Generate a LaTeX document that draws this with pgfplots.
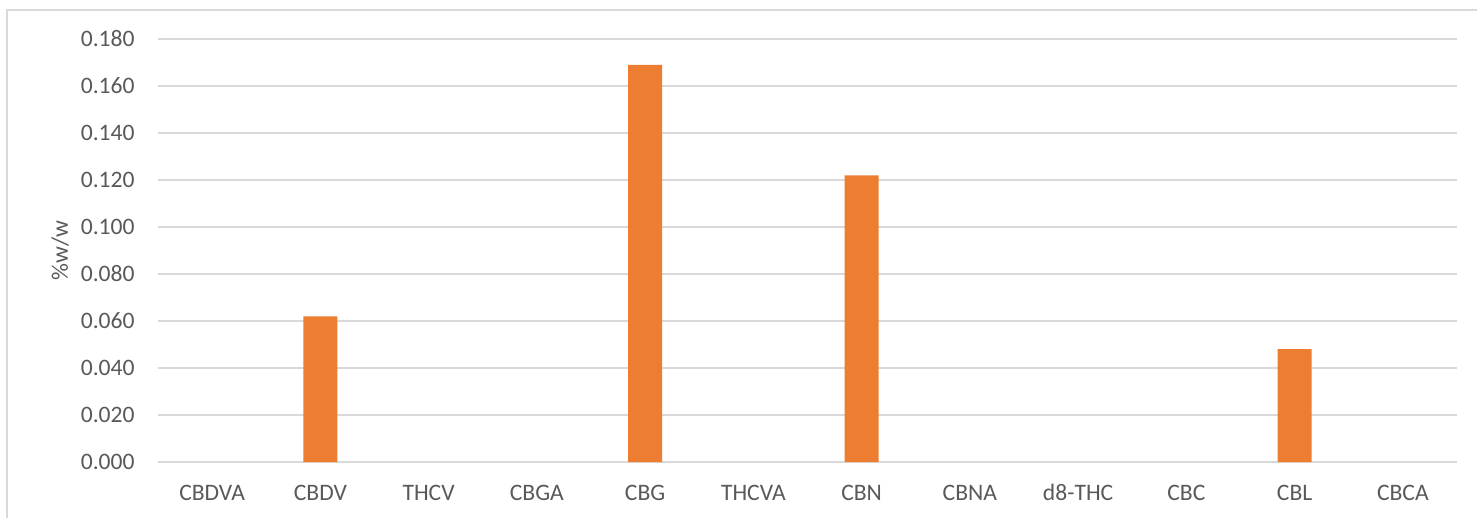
\documentclass[border=0pt]{standalone}
\usepackage{pgfplots}
\pgfplotsset{compat=1.18}
\usepackage{fontspec}
\setmainfont{Carlito}

\definecolor{barorange}{HTML}{ED7D31}
\definecolor{gridgray}{HTML}{D9D9D9}
\definecolor{txtgray}{HTML}{595959}

\begin{document}
\begin{tikzpicture}
\useasboundingbox (-79bp,-28bp) rectangle (659.5bp,231bp);
% chart area frame, cut off on the right and bottom
\draw[gridgray, line width=1bp] (-75.5bp,-40bp) -- (-75.5bp,226bp) -- (700bp,226bp);
\begin{axis}[
    at={(0,0)}, anchor=south west,
    scale only axis,
    width=649.5bp, height=211.5bp,
    xmin=-0.5, xmax=11.5,
    ymin=0, ymax=0.18,
    ytick={0,0.02,...,0.181},
    xtick={0,...,11},
    xticklabels={CBDVA,CBDV,THCV,CBGA,CBG,THCVA,CBN,CBNA,d8-THC,CBC,CBL,CBCA},
    axis line style={draw=none},
    major tick length=0pt,
    ymajorgrids,
    grid style={gridgray, line width=1bp},
    tick label style={font=\fontsize{11.8bp}{14bp}\selectfont, text=txtgray, inner sep=0pt},
    yticklabel style={anchor=east, xshift=-11.5bp,
        /pgf/number format/.cd, fixed, fixed zerofill, precision=3, assume math mode=true},
    xticklabel style={anchor=base, yshift=-19bp},
    scaled y ticks=false,
    ylabel={\%w/w},
    ylabel style={font=\fontsize{11.8bp}{14bp}\selectfont, text=txtgray,
        at={(rel axis cs:-0.0754,0.5)}, anchor=center, inner sep=0pt},
    unbounded coords=discard,
]
% zero values are left out so no hairline is drawn at 0
\addplot[ybar, bar width=17bp, fill=barorange, draw=none,
    y filter/.expression={y==0 ? nan : y}] coordinates {
    (0, 0)
    (1, 0.062)
    (2, 0)
    (3, 0)
    (4, 0.169)
    (5, 0)
    (6, 0.122)
    (7, 0)
    (8, 0)
    (9, 0)
    (10, 0.048)
    (11, 0)
};
\end{axis}
\end{tikzpicture}
\end{document}
